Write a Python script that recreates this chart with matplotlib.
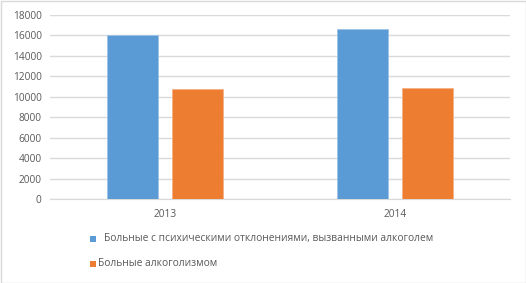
import matplotlib
matplotlib.use("Agg")
import matplotlib.pyplot as plt
import numpy as np
from matplotlib.patches import Rectangle

categories = ["2013", "2014"]
series_names = ["Больные с психическими отклонениями, вызванными алкоголем",
                "Больные алкоголизмом"]
mental = [16000, 16650]
alcoholism = [10800, 10850]
colors = ["#5B9BD5", "#ED7D31"]
yticks = [0, 2000, 4000, 6000, 8000, 10000, 12000, 14000, 16000, 18000]

plt.rcParams['font.family'] = ['Open Sans', 'DejaVu Sans']
W, H = 526, 283
fig = plt.figure(figsize=(W/100, H/100), dpi=100)
fig.patch.set_facecolor("white")
# border
fig.add_artist(Rectangle((0.5/W, 0.5/H), 1-1/W, 1-1/H, transform=fig.transFigure,
                         fill=False, edgecolor="#D9D9D9", linewidth=1))

ax = fig.add_axes([50/W, 1-199/H, 460/W, 184/H])
x = np.arange(len(categories))
bw = 0.222
off = 0.143
ax.bar(x - off, mental, width=bw, color=colors[0], edgecolor="#9DC3E6", linewidth=0.6, zorder=3)
ax.bar(x + off, alcoholism, width=bw, color=colors[1], edgecolor="#F4B183", linewidth=0.6, zorder=3)
ax.set_xlim(-0.5, 1.5)
ax.set_ylim(0, 18000)
ax.set_yticks(yticks)
ax.set_yticklabels([str(v) for v in yticks])
ax.set_xticks(x)
ax.set_xticklabels(categories)
ax.yaxis.grid(True, color="#D9D9D9", linewidth=1, zorder=0)
for s in ["top", "right", "left"]:
    ax.spines[s].set_visible(False)
ax.spines["bottom"].set_color("#D9D9D9")
ax.tick_params(axis="both", length=0, labelsize=7.3, colors="#595959")
ax.tick_params(axis="y", pad=6)
ax.tick_params(axis="x", pad=7)

# legend
rows = [(239, 93, 104), (264, 93, 98)]
for (yy, mx, tx), c, name in zip(rows, colors, series_names):
    fig.add_artist(Rectangle(((mx-3)/W, 1-(yy+3)/H), 6/W, 6/H, transform=fig.transFigure,
                             facecolor=c, edgecolor="none"))
    fig.text(tx/W, 1-yy/H, name, fontsize=7.4, color="#595959", va="center", ha="left")

fig.savefig("out.png", dpi=100)
